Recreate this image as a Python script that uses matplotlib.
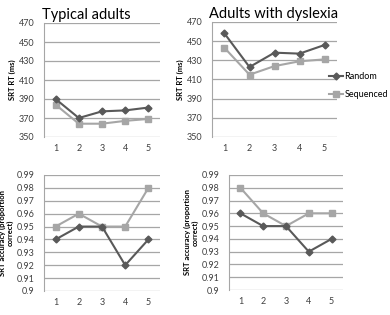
import matplotlib
matplotlib.use("Agg")
from matplotlib import pyplot as plt

blocks = [1, 2, 3, 4, 5]

# reaction times (ms)
typ_rt_random = [390, 370, 377, 378, 381]
typ_rt_seq = [384, 364, 364, 367, 369]
dys_rt_random = [458, 423, 438, 437, 446]
dys_rt_seq = [443, 415, 424, 429, 431]

# accuracy (proportion correct)
typ_acc_random = [0.94, 0.95, 0.95, 0.92, 0.94]
typ_acc_seq = [0.95, 0.96, 0.95, 0.95, 0.98]
dys_acc_random = [0.96, 0.95, 0.95, 0.93, 0.94]
dys_acc_seq = [0.98, 0.96, 0.95, 0.96, 0.96]

rt_ticks = [350, 370, 390, 410, 430, 450, 470]
acc_ticks = [0.9, 0.91, 0.92, 0.93, 0.94, 0.95, 0.96, 0.97, 0.98, 0.99]
acc_labels = ['0.9'] + ['%.2f' % t for t in acc_ticks[1:]]

plt.rcParams['font.family'] = ['Lato', 'DejaVu Sans']
dark = '#595959'
light = '#a6a6a6'
W, H = 390, 315

fig = plt.figure(figsize=(3.9, 3.15), dpi=100)


def make_ax(l, r, t, b):
    return fig.add_axes([l / W, 1 - b / H, (r - l) / W, (b - t) / H])


def style(ax, ticks, labels, ylabel, title=None, lpad=4):
    ax.set_xlim(0.5, 5.5)
    ax.set_ylim(ticks[0], ticks[-1])
    ax.set_yticks(ticks)
    ax.set_yticklabels(labels, fontsize=6.5, color='#404040')
    ax.set_xticks(blocks)
    ax.set_xticklabels([str(b) for b in blocks], fontsize=6.5, color='#404040')
    ax.tick_params(length=0, pad=5)
    ax.tick_params(axis='y', pad=7)
    ax.grid(axis='y', color='#a6a6a6', lw=0.9)
    ax.set_axisbelow(True)
    for s in ['top', 'right', 'bottom']:
        ax.spines[s].set_visible(False)
    ax.spines['left'].set_color('#a6a6a6')
    ax.set_ylabel(ylabel, fontsize=5.5, fontweight='bold', labelpad=lpad,
                  linespacing=1.0)
    if title:
        ax.set_title(title, fontsize=10.5, loc='left', pad=3, x=-0.02)


def draw(ax, rnd, seq):
    ax.plot(blocks, rnd, color=dark, lw=1.5, marker='D', ms=3.5, label='Random', zorder=3)
    ax.plot(blocks, seq, color=light, lw=1.5, marker='s', ms=4.5, label='Sequenced', zorder=2)


ax1 = make_ax(44, 160, 23, 137)
draw(ax1, typ_rt_random, typ_rt_seq)
style(ax1, rt_ticks, [str(t) for t in rt_ticks], 'SRT RT (ms)', 'Typical adults', lpad=2)

ax2 = make_ax(212, 337, 22, 137)
draw(ax2, dys_rt_random, dys_rt_seq)
style(ax2, rt_ticks, [str(t) for t in rt_ticks], 'SRT RT (ms)', 'Adults with dyslexia', lpad=2)
ax2.legend(loc='center left', bbox_to_anchor=(0.9, 0.45), frameon=False, fontsize=6.5,
           handlelength=1.6, handletextpad=0.1, labelspacing=1.0, borderpad=0)

ax3 = make_ax(44, 160, 175, 291)
draw(ax3, typ_acc_random, typ_acc_seq)
style(ax3, acc_ticks, acc_labels, 'SRT accuracy (proportion\ncorrect)', lpad=2)

ax4 = make_ax(229, 343, 175, 290)
draw(ax4, dys_acc_random, dys_acc_seq)
style(ax4, acc_ticks, acc_labels, 'SRT accuracy (proportion\ncorrect)', lpad=2)

fig.savefig('out.png', dpi=100)
